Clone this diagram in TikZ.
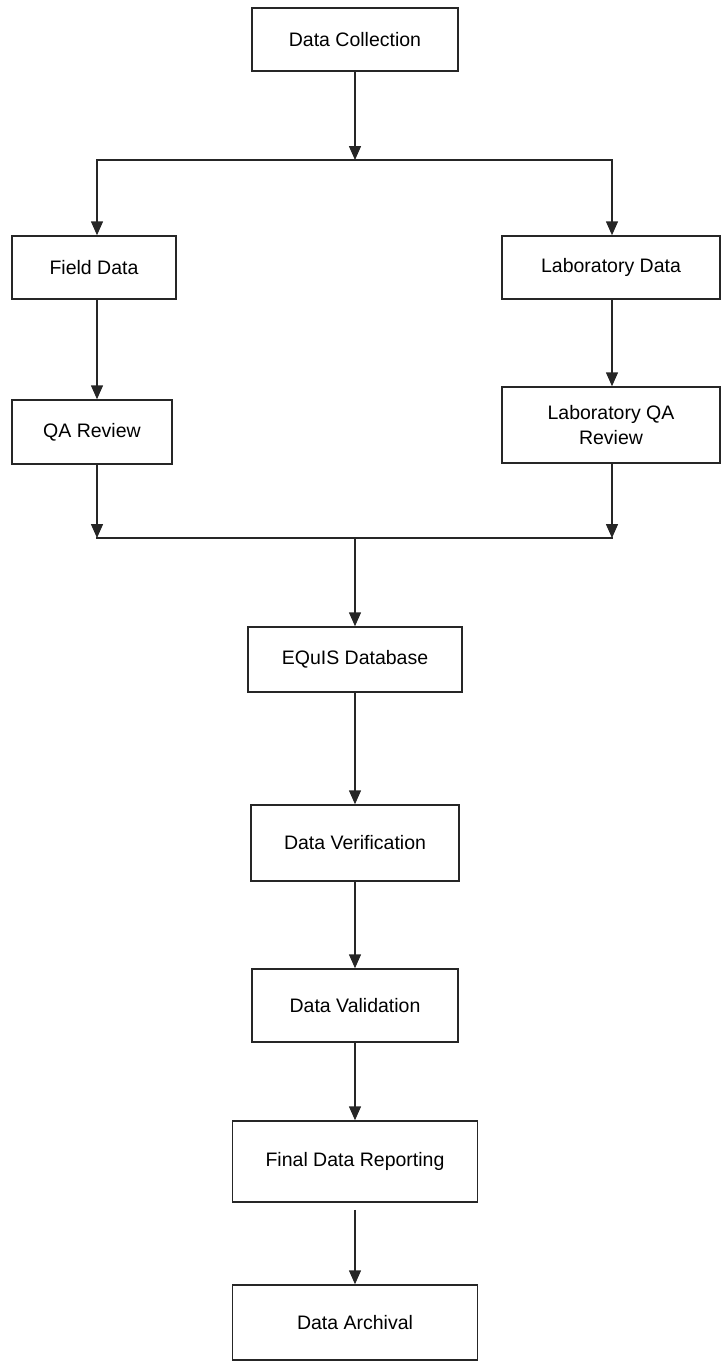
\documentclass[tikz,border=0pt]{standalone}
\usepackage{fontspec}
\setmainfont{Liberation Sans}
\usetikzlibrary{arrows.meta}
\begin{document}
\begin{tikzpicture}[x=1pt,y=-1pt,
  box/.style={draw=black!85, line width=1.5pt, inner sep=0pt, align=center, font=\fontsize{19.5}{25}\selectfont},
  arr/.style={draw=black!85, line width=1.5pt, -{Triangle[length=14pt,width=12pt]}},
  ln/.style={draw=black!85, line width=1.5pt, line cap=rect}]
\useasboundingbox (0,0) rectangle (721,1361);
% boxes
\node[box, minimum width=206pt, minimum height=63pt] (dc) at (355,39.5) {Data Collection};
\node[box, minimum width=164pt, minimum height=63pt] (fd) at (94,267.5) {Field Data};
\node[box, minimum width=218pt, minimum height=63pt] (ld) at (611,267.5) {Laboratory Data};
\node[box, minimum width=160pt, minimum height=64pt] (qa) at (92,432) {QA Review};
\node[box, minimum width=218pt, minimum height=76pt] (lqa) at (611,425) {Laboratory QA\\Review};
\node[box, minimum width=214pt, minimum height=65pt] (eq) at (355,659.5) {EQuIS Database};
\node[box, minimum width=208pt, minimum height=76pt] (dv) at (355,843) {Data Verification};
\node[box, minimum width=206pt, minimum height=73pt] (dval) at (355,1005.5) {Data Validation};
\node[box, minimum width=245pt, minimum height=81pt] (fdr) at (355,1161.5) {Final Data Reporting};
\node[box, minimum width=245pt, minimum height=75pt] (da) at (355,1322.5) {Data Archival};
% split
\coordinate (ts) at (355,160);
\coordinate (tl) at (97,160);
\coordinate (tr) at (612,160);
\draw[arr] (dc.south) -- (ts);
\draw[ln] (tl) -- (tr);
\draw[arr] (tl) -- (tl |- fd.north);
\draw[arr] (tr) -- (tr |- ld.north);
\draw[arr] (fd.south -| tl) -- (tl |- qa.north);
\draw[arr] (ld.south -| tr) -- (tr |- lqa.north);
% merge
\coordinate (bl) at (97,538);
\coordinate (br) at (612,538);
\coordinate (bm) at (355,538);
\draw[arr] (qa.south -| bl) -- (bl);
\draw[arr] (lqa.south -| br) -- (br);
\draw[ln] (bl) -- (br);
\draw[arr] (bm) -- (eq.north);
% chain
\draw[arr] (eq.south) -- (dv.north);
\draw[arr] (dv.south) -- (dval.north);
\draw[arr] (dval.south) -- (fdr.north);
\draw[arr, shorten <=7pt] (fdr.south) -- (da.north);
\end{tikzpicture}
\end{document}
